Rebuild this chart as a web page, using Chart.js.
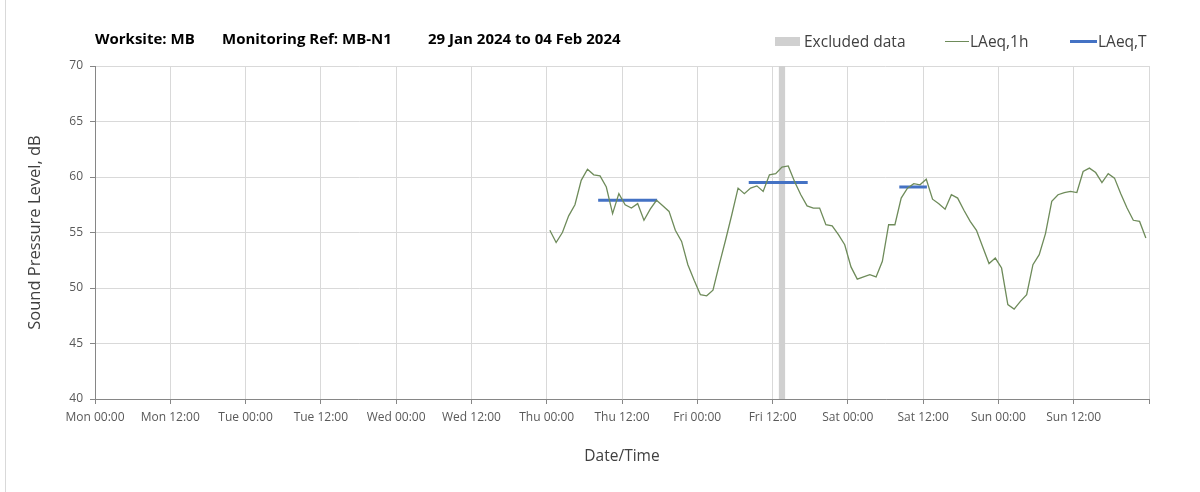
<!DOCTYPE html>
<html>
<head>
<meta charset="utf-8">
<script src="https://cdn.jsdelivr.net/npm/chart.js@4.4.1/dist/chart.umd.min.js"></script>
<style>
  body { margin: 0; background: #fff; }
  #wrap { position: relative; width: 1200px; height: 492px; font-family: "Open Sans", sans-serif; }
  #frame { position: absolute; left: 5px; top: 0; width: 1px; height: 492px; background: #d9d9d9; }
  canvas { position: absolute; left: 0; top: 0; }
  .title { position: absolute; top: 28px; font-weight: bold; font-size: 15px; color: #000; white-space: nowrap; }
  .leg { position: absolute; top: 30px; font-size: 15.5px; color: #404040; white-space: nowrap; }
  .sw { position: absolute; }
</style>
</head>
<body>
<div id="wrap">
  <canvas id="chart" width="1200" height="492"></canvas>
  <div id="frame"></div>
  <div class="title" style="left:95px">Worksite: MB</div>
  <div class="title" style="left:222px">Monitoring Ref: MB-N1</div>
  <div class="title" style="left:428px">29 Jan 2024 to 04 Feb 2024</div>

  <div class="sw" style="left:775px; top:37px; width:25px; height:9px; background:#d0d0d0"></div>
  <div class="leg" style="left:804px">Excluded data</div>
  <div class="sw" style="left:945px; top:41px; width:24px; height:1px; background:#6e8b5a"></div>
  <div class="leg" style="left:970px">LAeq,1h</div>
  <div class="sw" style="left:1070px; top:40px; width:27px; height:3px; background:#4472c4"></div>
  <div class="leg" style="left:1098px">LAeq,T</div>
</div>

<script>
// hours counted from Mon 00:00
const dayNames = ['Mon', 'Tue', 'Wed', 'Thu', 'Fri', 'Sat', 'Sun', 'Mon'];
const firstHour = 72.5;

// hourly LAeq,1h, Thu 00:30 .. Sun 23:30
const laeqHourly = [
  // Thu
  55.2, 54.1, 55.0, 56.5, 57.5, 59.7, 60.7, 60.2, 60.1, 59.1, 56.7, 58.5,
  57.5, 57.2, 57.6, 56.1, 57.1, 57.9, 57.4, 56.9, 55.2, 54.2, 52.1, 50.7,
  // Fri
  49.4, 49.3, 49.8, 52.1, 54.3, 56.6, 59.0, 58.5, 59.0, 59.2, 58.7, 60.2,
  60.3, 60.9, 61.0, 59.6, 58.4, 57.4, 57.2, 57.2, 55.7, 55.6, 54.8, 53.9,
  // Sat
  51.9, 50.8, 51.0, 51.2, 51.0, 52.4, 55.7, 55.7, 58.1, 59.0, 59.4, 59.3,
  59.8, 58.0, 57.6, 57.1, 58.4, 58.1, 57.0, 56.0, 55.2, 53.7, 52.2, 52.7,
  // Sun
  51.8, 48.5, 48.1, 48.8, 49.4, 52.1, 53.0, 54.9, 57.8, 58.4, 58.6, 58.7,
  58.6, 60.5, 60.8, 60.4, 59.5, 60.3, 59.9, 58.5, 57.2, 56.1, 56.0, 54.5
];

// LAeq,T periods
const periodStart = [80.2, 104.2, 128.2];
const periodEnd = [89.6, 113.6, 132.6];
const periodLevel = [57.9, 59.5, 59.1];

// excluded data window (Fri 13:00 - 14:00)
const excludedStart = [109];
const excludedEnd = [110];

const yTicks = [40, 45, 50, 55, 60, 65, 70];

const hourlyPoints = laeqHourly.map((v, i) => ({ x: firstHour + i, y: v }));

const periodSets = periodLevel.map((lvl, i) => ({
    label: 'LAeq,T',
    data: [{ x: periodStart[i], y: lvl }, { x: periodEnd[i], y: lvl }],
    borderColor: '#4472c4',
    borderWidth: 3,
    pointRadius: 0,
    borderCapStyle: 'butt'
}));

const excludedBand = {
    id: 'excludedBand',
    beforeDatasetsDraw(chart) {
        const { ctx, chartArea, scales } = chart;
        ctx.save();
        ctx.fillStyle = '#d0d0d0';
        excludedStart.forEach((s, i) => {
            const x0 = scales.x.getPixelForValue(s);
            const x1 = scales.x.getPixelForValue(excludedEnd[i]);
            ctx.fillRect(x0, chartArea.top, x1 - x0, chartArea.bottom - chartArea.top);
        });
        ctx.restore();
    }
};

const ctx = document.getElementById('chart').getContext('2d');
new Chart(ctx, {
    type: 'line',
    data: {
        datasets: [{
            label: 'LAeq,1h',
            data: hourlyPoints,
            borderColor: '#6e8b5a',
            borderWidth: 1.3,
            pointRadius: 0,
            tension: 0
        }].concat(periodSets)
    },
    plugins: [excludedBand],
    options: {
        responsive: false,
        animation: false,
        layout: { padding: { top: 66, right: 51, bottom: 0, left: 0 } },
        plugins: {
            legend: { display: false },
            tooltip: { enabled: false }
        },
        scales: {
            x: {
                type: 'linear',
                min: 0,
                max: 168,
                afterBuildTicks: scale => {
                    scale.ticks = [];
                    for (let h = 0; h <= 168; h += 12) scale.ticks.push({ value: h });
                },
                afterFit: scale => { scale.height = 93; },
                ticks: {
                    autoSkip: false,
                    maxRotation: 0,
                    padding: 6,
                    color: '#595959',
                    font: { family: 'Open Sans', size: 12 },
                    callback: value => {
                        if (value >= 168) return '';
                        const day = dayNames[Math.floor(value / 24)];
                        const hr = value % 24 === 0 ? '00:00' : '12:00';
                        return day + ' ' + hr;
                    }
                },
                grid: { color: '#d9d9d9', tickColor: '#868686', tickLength: 5 },
                border: { color: '#868686' },
                title: {
                    display: true,
                    text: 'Date/Time',
                    color: '#404040',
                    font: { family: 'Open Sans', size: 15.5 },
                    padding: { top: 0, bottom: 26 }
                }
            },
            y: {
                min: 40,
                max: 70,
                afterBuildTicks: scale => { scale.ticks = yTicks.map(v => ({ value: v })); },
                afterFit: scale => { scale.width = 95; },
                ticks: {
                    padding: 7,
                    color: '#595959',
                    font: { family: 'Open Sans', size: 12 }
                },
                grid: { color: '#d9d9d9', tickColor: '#868686', tickLength: 5 },
                border: { color: '#868686' },
                title: {
                    display: true,
                    text: 'Sound Pressure Level, dB',
                    color: '#404040',
                    font: { family: 'Open Sans', size: 16.5 },
                    padding: { top: 25, bottom: 0 }
                }
            }
        }
    }
});
</script>
</body>
</html>
